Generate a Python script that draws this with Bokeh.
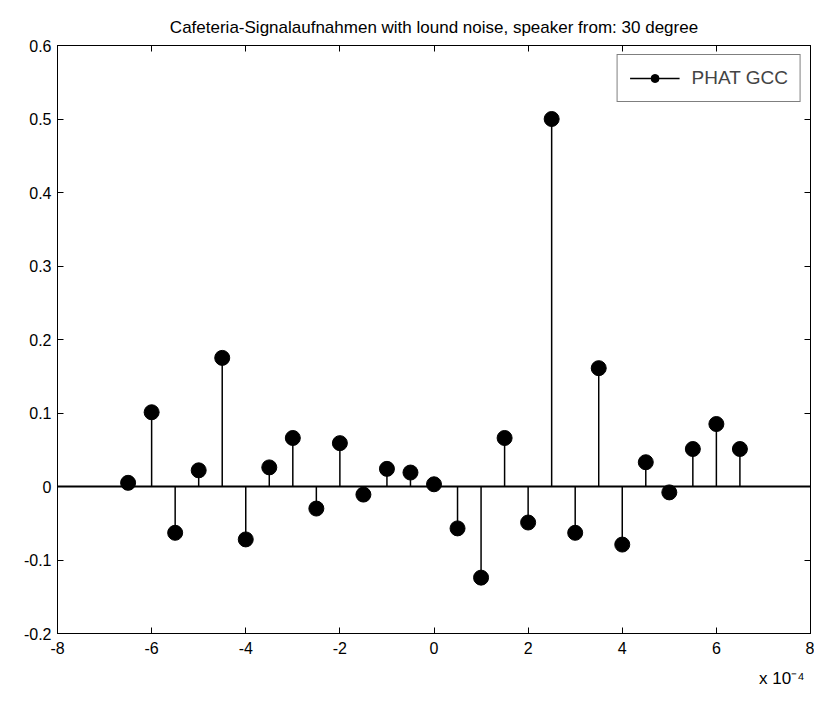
from bokeh.plotting import figure
from bokeh.models import Range1d, LinearAxis, Span, Legend, LegendItem, FixedTicker, Title
from bokeh.embed import file_html
from bokeh.resources import INLINE

# data (x in units of 1e-4)
lags = [-6.5, -6.0, -5.5, -5.0, -4.5, -4.0, -3.5, -3.0, -2.5, -2.0, -1.5, -1.0, -0.5, 0.0,
        0.5, 1.0, 1.5, 2.0, 2.5, 3.0, 3.5, 4.0, 4.5, 5.0, 5.5, 6.0, 6.5]
gcc = [0.005, 0.101, -0.063, 0.022, 0.175, -0.072, 0.026, 0.066, -0.030, 0.059, -0.011, 0.024, 0.019, 0.003,
       -0.057, -0.124, 0.066, -0.049, 0.500, -0.063, 0.161, -0.079, 0.033, -0.008, 0.051, 0.085, 0.051]
x_ticks = [-8, -6, -4, -2, 0, 2, 4, 6, 8]
y_ticks = [-0.2, -0.1, 0.0, 0.1, 0.2, 0.3, 0.4, 0.5, 0.6]
title_text = "Cafeteria-Signalaufnahmen with lound noise, speaker from: 30 degree"
series_name = "PHAT GCC"
exp_text = "x 10\u207b\u2074"

FONT = "Liberation Sans"

p = figure(width=814, height=703, output_backend="svg", toolbar_location=None,
           x_range=Range1d(-8, 8), y_range=Range1d(-0.2, 0.6),
           min_border_left=57, min_border_right=4, min_border_top=45, min_border_bottom=70)
p.grid.visible = False
p.outline_line_color = "black"
p.outline_line_width = 1
p.background_fill_color = "white"
p.border_fill_color = "white"

for ax in (p.xaxis[0], p.yaxis[0]):
    ax.major_tick_in = 6
    ax.major_tick_out = 0
    ax.minor_tick_in = 0
    ax.minor_tick_out = 0
    ax.axis_line_color = "black"
    ax.major_tick_line_color = "black"
    ax.major_label_text_font = FONT
    ax.major_label_text_font_size = "16px"
    ax.major_label_text_color = "black"
p.xaxis[0].ticker = FixedTicker(ticks=x_ticks)
p.yaxis[0].ticker = FixedTicker(ticks=y_ticks)
p.xaxis[0].major_label_standoff = 8
p.yaxis[0].major_label_standoff = 6
p.xaxis[0].major_label_overrides = {v: str(v) for v in x_ticks}
p.yaxis[0].major_label_overrides = {v: ("0" if v == 0 else f"{v:.1f}") for v in y_ticks}

top = LinearAxis(ticker=FixedTicker(ticks=x_ticks), major_tick_in=6, major_tick_out=0,
                 minor_tick_in=0, minor_tick_out=0,
                 major_label_overrides={v: "" for v in x_ticks}, major_label_standoff=0)
right = LinearAxis(ticker=FixedTicker(ticks=y_ticks), major_tick_in=6, major_tick_out=0,
                   minor_tick_in=0, minor_tick_out=0,
                   major_label_overrides={v: "" for v in y_ticks}, major_label_standoff=0)
p.add_layout(top, "above")
p.add_layout(right, "right")

p.add_layout(Span(location=0, dimension="width", line_color="black", line_width=2))

stems = p.segment(x0=lags, y0=[0] * len(lags), x1=lags, y1=gcc, line_color="black", line_width=1.5)
dots = p.scatter(lags, gcc, size=15, color="black")

legend = Legend(items=[LegendItem(label=series_name, renderers=[stems, dots])],
                location="top_right", margin=9, padding=12, glyph_width=50, label_standoff=12,
                label_text_font=FONT, label_text_font_size="19px",
                border_line_color="black", border_line_width=1, background_fill_alpha=1)
p.add_layout(legend)

p.add_layout(Title(text=title_text, align="center", text_font=FONT, text_font_size="17px",
                   text_font_style="normal", text_color="black", standoff=18), "above")
p.add_layout(Title(text=exp_text, align="right", text_font=FONT, text_font_size="17px",
                   text_font_style="normal", text_color="black", offset=6, standoff=20), "below")

open("out.html", "w").write(file_html(p, INLINE))
